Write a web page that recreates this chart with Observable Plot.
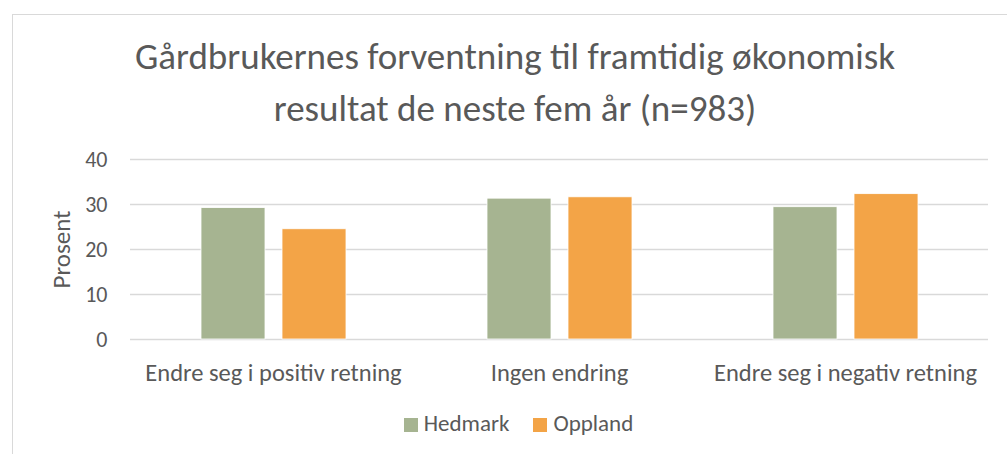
<!DOCTYPE html>
<html>
<head>
<meta charset="utf-8">
<script src="https://cdn.jsdelivr.net/npm/d3@7"></script>
<script src="https://cdn.jsdelivr.net/npm/@observablehq/plot@0.6"></script>
<style>
  body { margin: 0; background: #fff; width: 1007px; height: 454px; overflow: hidden; position: relative;
         font-family: "Carlito", "Lato", "Open Sans", sans-serif; color: #595959; }
  #frame { position: absolute; left: 12px; top: 14px; width: 1100px; height: 600px; border: 1px solid #d9d9d9; box-sizing: border-box; }
  #title { position: absolute; left: 0; width: 1030px; top: 31px; text-align: center; font-size: 37px; line-height: 52px; color: #595959; }
  #chart { position: absolute; left: 0; top: 140px; }
  #legend { position: absolute; top: 409px; left: 0; width: 1037px; text-align: center; font-size: 23px; line-height: 28px; }
  #legend span.item { display: inline-block; margin: 0 12px; }
  #legend span.sw { display: inline-block; width: 14px; height: 14px; margin-right: 6px; vertical-align: -1px; }
  #chart svg g.ytick text { font-size: 22px; }
</style>
</head>
<body>
<div id="frame"></div>
<div id="title">Gårdbrukernes forventning til framtidig økonomisk<br>resultat de neste fem år (n=983)</div>
<div id="chart"></div>
<div id="legend"></div>
<script>
const categories = ["Endre seg i positiv retning", "Ingen endring", "Endre seg i negativ retning"];
const series = ["Hedmark", "Oppland"];
const hedmark = [29.2, 31.3, 29.4];
const oppland = [24.5, 31.6, 32.3];
const colors = ["#A6B491", "#F3A447"];
const yTicks = [0, 10, 20, 30, 40];
const yLabel = "Prosent";

const data = [];
categories.forEach((c, i) => {
  data.push({category: c, series: series[0], value: hedmark[i]});
  data.push({category: c, series: series[1], value: oppland[i]});
});

const font = '"Carlito", "Lato", "Open Sans", sans-serif';
const chart = Plot.plot({
  width: 1007,
  height: 249,
  marginTop: 19,
  marginBottom: 50,
  marginLeft: 129,
  marginRight: 18,
  style: {fontFamily: font, fontSize: "22px", color: "#595959", background: "transparent", overflow: "visible"},
  fx: {domain: categories, padding: 0, label: null},
  x: {domain: series, paddingInner: 0.213, paddingOuter: 0.855, axis: null},
  y: {domain: [0, 40], ticks: yTicks},
  color: {domain: series, range: colors},
  marks: [
    Plot.gridY(yTicks, {stroke: "#d9d9d9", strokeOpacity: 1, strokeWidth: 1.3}),
    Plot.axisY(yTicks, {tickSize: 0, tickPadding: 23, fontSize: 22, fill: "#595959", label: null}),
    Plot.text([{category: categories[0], label: yLabel}], {fx: "category", text: "label", frameAnchor: "left", textAnchor: "middle", dx: -69, rotate: -90, fontSize: 25, fill: "#595959", fontFamily: font}),
    Plot.axisFx({anchor: "bottom", tickSize: 0, tickPadding: 24, fontSize: 24.5, fill: "#595959", label: null}),
    Plot.barY(data, {fx: "category", x: "series", y: "value", fill: "series", stroke: "#fff", strokeWidth: 0.8})
  ]
});
document.getElementById("chart").appendChild(chart);

const legend = document.getElementById("legend");
series.forEach((s, i) => {
  const item = document.createElement("span");
  item.className = "item";
  item.innerHTML = `<span class="sw" style="background:${colors[i]}"></span>${s}`;
  legend.appendChild(item);
});
</script>
</body>
</html>
